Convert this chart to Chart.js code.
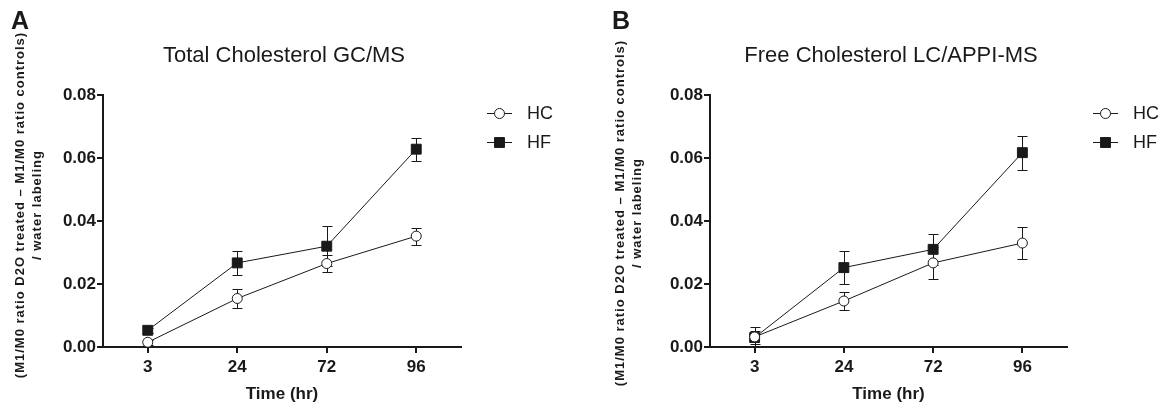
<!DOCTYPE html>
<html>
<head>
<meta charset="utf-8">
<script src="https://cdn.jsdelivr.net/npm/chart.js@4.4.1/dist/chart.umd.min.js"></script>
<style>
  body { margin: 0; background: #fff; width: 1159px; height: 407px; overflow: hidden;
         font-family: "Liberation Sans", Arial, sans-serif; color: #1a1a1a; }
  .panel { position: absolute; top: 0; width: 579px; height: 407px; overflow: hidden; }
  .panel canvas { position: absolute; left: 0; top: 0; }
  .letter { position: absolute; top: 6px; font-size: 25px; font-weight: bold; }
  .title { position: absolute; top: 55px; transform: translate(-50%, -50%); font-size: 22px; white-space: nowrap; }
  .ytitle { position: absolute; transform: translate(-50%, -50%) rotate(-90deg); font-size: 13px; font-weight: bold;
            letter-spacing: 1px; line-height: 17px; text-align: center; white-space: nowrap; }
  .leg { position: absolute; font-size: 18px; transform: translateY(-50%); white-space: nowrap; }
</style>
</head>
<body>
<div class="panel" id="panelA" style="left:0"></div>
<div class="panel" id="panelB" style="left:580px"></div>

<script>
const times = ["3", "24", "72", "96"];
const yTicks = [0, 0.02, 0.04, 0.06, 0.08];
const seriesNames = ["HC", "HF"];

// A: total cholesterol GC/MS
const hcTotal = [0.0015, 0.0154, 0.0265, 0.0352];
const hcTotalErr = [0.0008, 0.0029, 0.0028, 0.0027];
const hfTotal = [0.0053, 0.0267, 0.0320, 0.0628];
const hfTotalErr = [0.0008, 0.0038, 0.0063, 0.0037];

// B: free cholesterol LC/APPI-MS
const hcFree = [0.0032, 0.0146, 0.0267, 0.0330];
const hcFreeErr = [0.0030, 0.0029, 0.0052, 0.0050];
const hfFree = [0.0030, 0.0252, 0.0310, 0.0617];
const hfFreeErr = [0.0020, 0.0053, 0.0050, 0.0054];

const ink = "#1a1a1a";
const font = "'Liberation Sans', Arial, sans-serif";

// vertical error bars with caps, drawn under the markers
const errorBars = {
  id: "errorBars",
  beforeDatasetsDraw(chart) {
    const { ctx, scales: { x, y } } = chart;
    ctx.save();
    ctx.strokeStyle = ink;
    ctx.lineWidth = 1;
    chart.data.datasets.forEach((ds) => {
      ds.data.forEach((v, i) => {
        const e = ds.err[i];
        const px = Math.round(x.getPixelForValue(i)) + 0.5;
        const top = Math.round(y.getPixelForValue(v + e)) + 0.5;
        const bot = Math.round(y.getPixelForValue(v - e)) + 0.5;
        ctx.beginPath();
        ctx.moveTo(px, top); ctx.lineTo(px, bot);
        ctx.moveTo(px - 5, top); ctx.lineTo(px + 5, top);
        ctx.moveTo(px - 5, bot); ctx.lineTo(px + 5, bot);
        ctx.stroke();
      });
    });
    ctx.restore();
  },
};

function drawMarker(ctx, ds, cx, cy) {
  ctx.beginPath();
  if (ds.pointStyle === "rect") {
    const s = ds.pointRadius * Math.SQRT1_2;
    ctx.rect(cx - s, cy - s, 2 * s, 2 * s);
  } else {
    ctx.arc(cx, cy, ds.pointRadius, 0, Math.PI * 2);
  }
  ctx.fillStyle = ds.pointBackgroundColor;
  ctx.fill();
  ctx.lineWidth = 1;
  ctx.strokeStyle = ink;
  ctx.stroke();
}

// legend symbols (line through marker); the labels are html
const legendSymbols = {
  id: "legendSymbols",
  afterDraw(chart, args, opts) {
    const { ctx, chartArea } = chart;
    const x0 = chartArea.right + 26;
    ctx.save();
    chart.data.datasets.forEach((ds, i) => {
      const cy = opts.rows[i] + 0.5;
      ctx.beginPath();
      ctx.moveTo(x0, cy); ctx.lineTo(x0 + 25, cy);
      ctx.lineWidth = 1;
      ctx.strokeStyle = ink;
      ctx.stroke();
      drawMarker(ctx, ds, x0 + 12.5, cy);
    });
    ctx.restore();
  },
};

function makePanel(id, p) {
  const el = document.getElementById(id);
  el.innerHTML = `
    <canvas width="579" height="407"></canvas>
    <div class="letter" style="left:${p.letterX}px">${p.letter}</div>
    <div class="title" style="left:${p.titleX}px">${p.title}</div>
    <div class="ytitle" style="left:${p.yTitleX}px;top:${p.yTitleY}px">(M1/M0 ratio D2O treated – M1/M0 ratio controls)<br>/ water labeling</div>
    <div class="leg" style="left:${p.right + 66}px;top:113px">${seriesNames[0]}</div>
    <div class="leg" style="left:${p.right + 66}px;top:142px">${seriesNames[1]}</div>
  `;
  const canvas = el.querySelector("canvas");

  new Chart(canvas, {
    type: "line",
    data: {
      labels: times,
      datasets: [
        {
          label: seriesNames[0],
          data: p.hc,
          err: p.hcErr,
          borderColor: ink,
          borderWidth: 1,
          pointStyle: "circle",
          pointRadius: 5,
          pointBackgroundColor: "#fff",
          pointBorderColor: ink,
          pointBorderWidth: 1,
          tension: 0,
        },
        {
          label: seriesNames[1],
          data: p.hf,
          err: p.hfErr,
          borderColor: ink,
          borderWidth: 1,
          pointStyle: "rect",
          pointRadius: 7,
          pointBackgroundColor: ink,
          pointBorderColor: ink,
          pointBorderWidth: 1,
          tension: 0,
        },
      ],
    },
    options: {
      responsive: false,
      animation: false,
      events: [],
      layout: { padding: { top: 95, right: 579 - p.right, bottom: 0, left: 0 } },
      plugins: {
        legend: { display: false },
        tooltip: { enabled: false },
        legendSymbols: { rows: [113, 142] },
      },
      scales: {
        x: {
          offset: true,
          grid: { drawOnChartArea: false, drawTicks: true, tickLength: 6, color: ink, lineWidth: 2 },
          border: { display: true, color: ink, width: 2 },
          ticks: { color: ink, padding: 4, font: { family: font, size: 17, weight: "bold" } },
          title: {
            display: true,
            text: "Time (hr)",
            color: ink,
            padding: { top: 0, bottom: 2 },
            font: { family: font, size: 17, weight: "bold" },
          },
          afterFit: (s) => { s.height = 60; },
        },
        y: {
          min: yTicks[0],
          max: yTicks[yTicks.length - 1],
          afterBuildTicks: (s) => { s.ticks = yTicks.map((v) => ({ value: v })); },
          grid: { drawOnChartArea: false, drawTicks: true, tickLength: 6, color: ink, lineWidth: 2 },
          border: { display: true, color: ink, width: 2 },
          ticks: {
            color: ink,
            padding: 1,
            font: { family: font, size: 17, weight: "bold" },
            callback: (v) => Number(v).toFixed(2),
          },
          afterFit: (s) => { s.width = p.left; },
        },
      },
    },
    plugins: [errorBars, legendSymbols],
  });
}

makePanel("panelA", {
  letter: "A", letterX: 11,
  title: "Total Cholesterol GC/MS", titleX: 284,
  yTitleX: 27.5, yTitleY: 205,
  left: 103, right: 461,
  hc: hcTotal, hcErr: hcTotalErr, hf: hfTotal, hfErr: hfTotalErr,
});

makePanel("panelB", {
  letter: "B", letterX: 32,
  title: "Free Cholesterol LC/APPI-MS", titleX: 311,
  yTitleX: 47.5, yTitleY: 213,
  left: 130, right: 487,
  hc: hcFree, hcErr: hcFreeErr, hf: hfFree, hfErr: hfFreeErr,
});
</script>
</body>
</html>
